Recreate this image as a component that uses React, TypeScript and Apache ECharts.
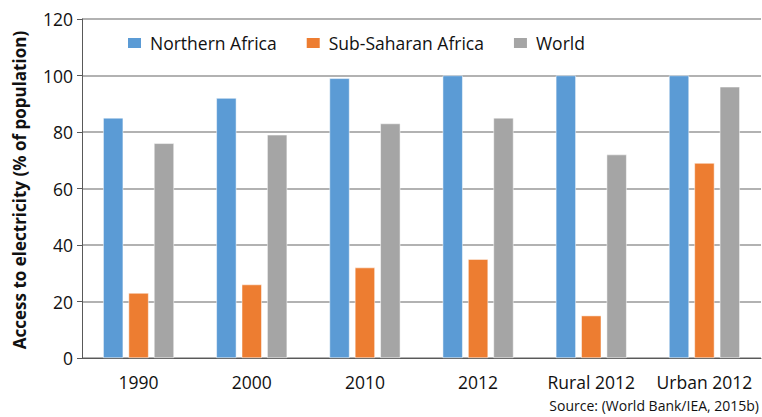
import React, { useEffect, useRef } from "react";
import * as echarts from "echarts";

const categories = ["1990", "2000", "2010", "2012", "Rural 2012", "Urban 2012"];
const northernAfrica = [85, 92, 99, 100, 100, 100];
const subSaharanAfrica = [23, 26, 32, 35, 15, 69];
const world = [76, 79, 83, 85, 72, 96];
const seriesNames = ["Northern Africa", "Sub-Saharan Africa", "World"];
const colors = ["#5B9BD5", "#ED7D31", "#A5A5A5"];

const FONT = "'Open Sans', Lato, sans-serif";

export default function App() {
  const ref = useRef<HTMLDivElement>(null);
  useEffect(() => {
    if (!ref.current) return;
    const chart = echarts.init(ref.current, null, { renderer: "svg" });
    const data = [northernAfrica, subSaharanAfrica, world];
    chart.setOption({
      animation: false,
      grid: { left: 82, right: 1, top: 19, bottom: 59, containLabel: false },
      legend: {
        left: 121,
        top: 29,
        itemWidth: 15,
        itemHeight: 12,
        itemGap: 28,
        icon: "rect",
        textStyle: { fontFamily: FONT, fontSize: 17.5, color: "#111111", padding: [0, 0, 0, 3] },
        data: seriesNames,
      },
      xAxis: {
        type: "category",
        data: categories,
        axisLine: { lineStyle: { color: "#595959", width: 1 } },
        axisTick: { show: false },
        axisLabel: { interval: 0, fontFamily: FONT, fontSize: 17.5, color: "#111111", margin: 15 },
      },
      yAxis: {
        type: "value",
        min: 0,
        max: 120,
        interval: 20,
        axisLine: { show: true, lineStyle: { color: "#595959", width: 1 } },
        axisTick: { show: true, length: 5, lineStyle: { color: "#595959" } },
        axisLabel: { fontFamily: FONT, fontSize: 17.5, color: "#111111", margin: 9 },
        splitLine: { lineStyle: { color: "#999999", width: 1.5 } },
      },
      series: seriesNames.map((name, i) => ({
        name,
        type: "bar",
        data: data[i],
        barWidth: 20,
        barGap: "27%",
        itemStyle: { color: colors[i], borderColor: "#ffffff", borderWidth: 0.5 },
      })),
      graphic: [
        {
          type: "text",
          x: 19,
          y: 190,
          rotation: Math.PI / 2,
          style: {
            text: "Access to electricity (% of population)",
            font: `bold 17px ${FONT}`,
            fill: "#111111",
            align: "center",
            verticalAlign: "middle",
          },
        },
        {
          type: "text",
          right: 3,
          top: 398,
          style: {
            text: "Source: (World Bank/IEA, 2015b)",
            font: `14px ${FONT}`,
            fill: "#111111",
          },
        },
      ],
    });
    return () => chart.dispose();
  }, []);
  return <div ref={ref} style={{ width: 762, height: 417, position: "absolute", left: 0, top: 0, background: "#fff" }} />;
}
